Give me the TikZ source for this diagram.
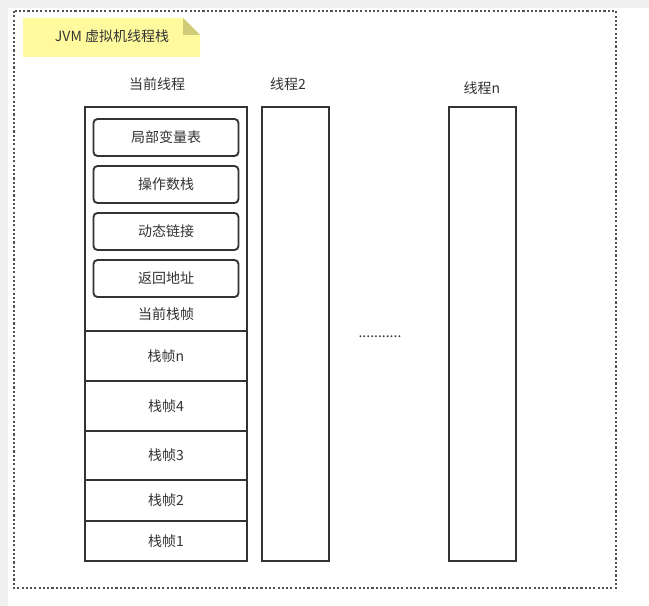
\documentclass[tikz,border=0pt]{standalone}
\usepackage{fontspec}
\setmainfont{Noto Sans CJK SC}
\usetikzlibrary{positioning}
\definecolor{ink}{HTML}{333333}
\definecolor{notefill}{HTML}{FFFA9E}
\definecolor{notefold}{HTML}{CFCB78}
\definecolor{pagegray}{HTML}{F0F0F0}
\tikzset{frame box/.style={draw=ink,line width=1.4pt,minimum width=121.5pt,inner sep=0pt,outer sep=0pt,text=ink},
  part box/.style={draw=ink,line width=1.4pt,rounded corners=3pt,minimum width=108.75pt,minimum height=27.75pt,inner sep=0pt,outer sep=0pt,text=ink},
  thread box/.style={draw=ink,line width=1.4pt,minimum width=50.25pt,minimum height=340.5pt,inner sep=0pt,outer sep=0pt,anchor=north west},
  label text/.style={text=ink,inner sep=0pt},}

\begin{document}
\begin{tikzpicture}[x=0.75pt,y=-0.75pt,font=\fontsize{10.5}{12}\selectfont]

 % page and frame
 \fill[pagegray] (0,0) rectangle (649,606);
 \fill[white] (8,8) rectangle (649,606);
 \draw[ink!85,line width=1.6pt,dash pattern=on 1.6pt off 1.6pt] (14,11) rectangle (616,588);

 % note
 \fill[notefill] (23,18) -- (183,18) -- (200,35) -- (200,57) -- (23,57) -- cycle;
 \fill[notefold] (183,18) -- (183,35) -- (200,35) -- cycle;
 \node[label text] (title) at (112,36) {JVM 虚拟机线程栈};

 % current thread
 \node[label text] (curname) at (157,84) {当前线程};
 \node[frame box,minimum height=168pt,anchor=north west] (cur) at (85,107) {};
 \node[part box] (p1) [below=9pt of cur.north] {局部变量表};
 \node[part box] (p2) [below=7.5pt of p1] {操作数栈};
 \node[part box] (p3) [below=7.5pt of p2] {动态链接};
 \node[part box] (p4) [below=7.5pt of p3] {返回地址};
 \node[label text] (curlab) at ([yshift=12.75pt]cur.south) {当前栈帧};
 \node[frame box,minimum height=37.5pt] (fn) [below=0pt of cur] {栈帧n};
 \node[frame box,minimum height=37.5pt] (f4) [below=0pt of fn] {栈帧4};
 \node[frame box,minimum height=36.75pt] (f3) [below=0pt of f4] {栈帧3};
 \node[frame box,minimum height=30.75pt] (f2) [below=0pt of f3] {栈帧2};
 \node[frame box,minimum height=30pt] (f1) [below=0pt of f2] {\raisebox{-2pt}{栈帧1}};

 % other threads
 \node[label text] (t2name) at (288,84) {线程2};
 \node[thread box] (t2) at (262,107) {};
 \node[label text] (dots) at (380,337) {...........};
 \node[label text] (tnname) at (482,88) {线程n};
 \node[thread box] (tn) at (449,107) {};
\end{tikzpicture}
\end{document}
